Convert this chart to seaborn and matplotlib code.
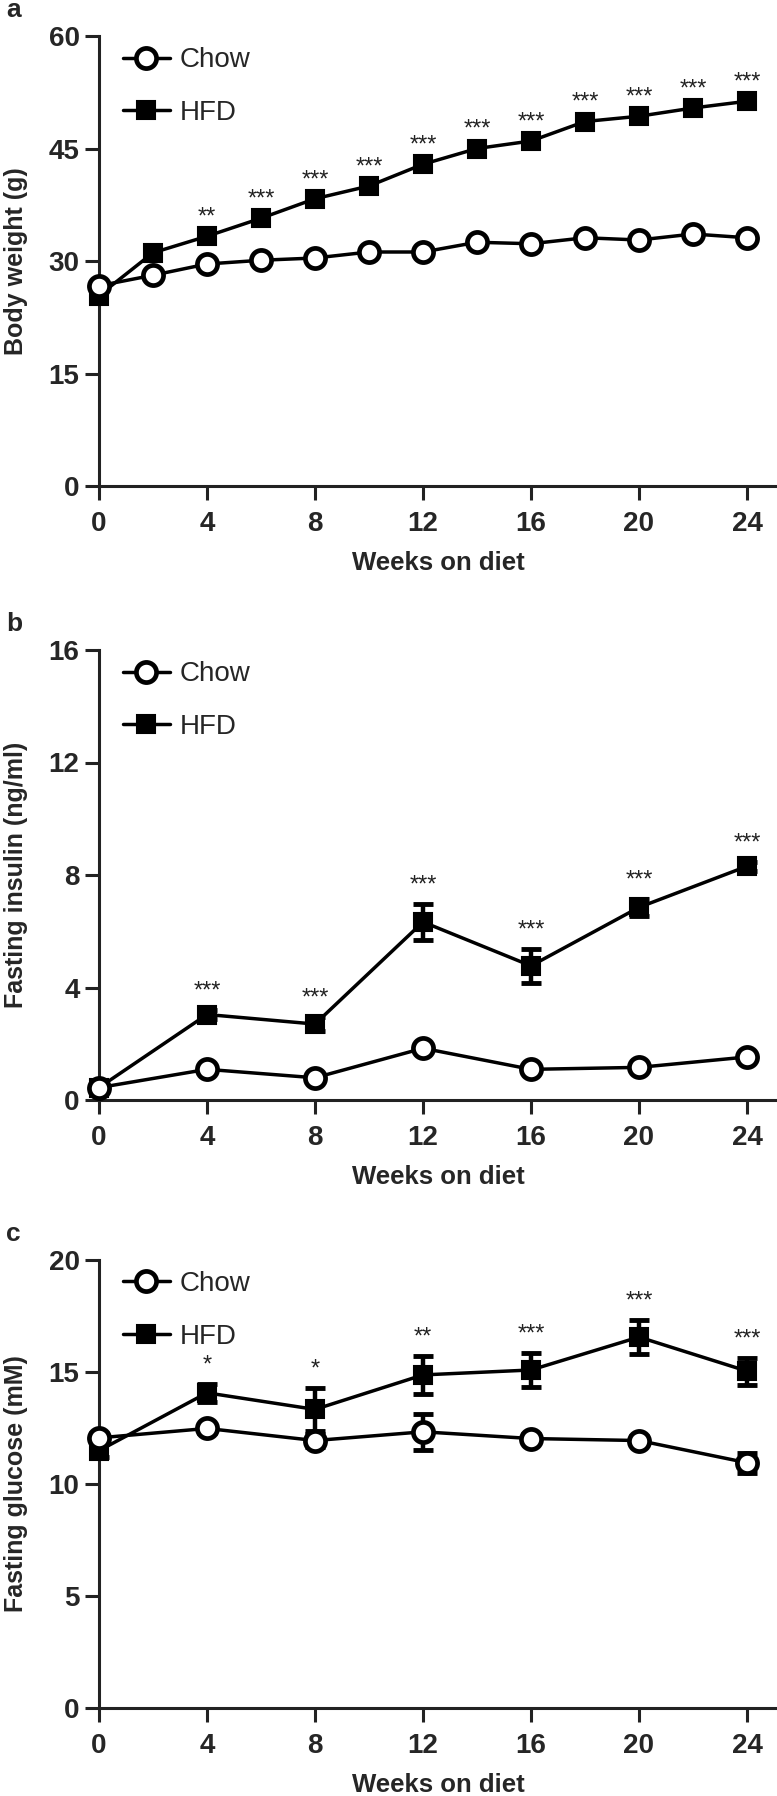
import numpy as np
import pandas as pd
import matplotlib
matplotlib.use("Agg")
import matplotlib.pyplot as plt
from matplotlib import font_manager
import seaborn as sns

# ---------------- data ----------------
weeks_a = [0, 2, 4, 6, 8, 10, 12, 14, 16, 18, 20, 22, 24]
chow_a = [26.7, 28.1, 29.6, 30.1, 30.4, 31.2, 31.2, 32.5, 32.3, 33.1, 32.8, 33.6, 33.1]
hfd_a = [25.4, 31.1, 33.3, 35.7, 38.3, 40.0, 42.9, 45.0, 46.0, 48.6, 49.3, 50.4, 51.3]
stars_a = ["", "", "**", "***", "***", "***", "***", "***", "***", "***", "***", "***", "***"]

weeks_bc = [0, 4, 8, 12, 16, 20, 24]
chow_b = [0.44, 1.09, 0.79, 1.84, 1.09, 1.16, 1.53]
chow_b_err = [0.05, 0.1, 0.1, 0.15, 0.1, 0.1, 0.1]
hfd_b = [0.44, 3.04, 2.70, 6.33, 4.77, 6.85, 8.31]
hfd_b_err = [0.05, 0.15, 0.25, 0.65, 0.6, 0.3, 0.15]
stars_b = ["", "***", "***", "***", "***", "***", "***"]

chow_c = [12.06, 12.48, 11.94, 12.33, 12.03, 11.94, 10.95]
chow_c_err = [0.2, 0.2, 0.3, 0.8, 0.2, 0.2, 0.45]
hfd_c = [11.49, 14.07, 13.33, 14.87, 15.09, 16.56, 15.04]
hfd_c_err = [0.3, 0.4, 0.95, 0.85, 0.75, 0.75, 0.6]
stars_c = ["", "*", "*", "**", "***", "***", "***"]

panel_letters = ["a", "b", "c"]
y_labels = ["Body weight (g)", "Fasting insulin (ng/ml)", "Fasting glucose (mM)"]
y_ticks = [[0, 15, 30, 45, 60], [0, 4, 8, 12, 16], [0, 5, 10, 15, 20]]
x_ticks = [0, 4, 8, 12, 16, 20, 24]
x_label = "Weeks on diet"
groups = ["Chow", "HFD"]

# ---------------- style ----------------
sns.set_style("ticks")
names = {f.name for f in font_manager.fontManager.ttflist}
base = "Liberation Sans" if "Liberation Sans" in names else "DejaVu Sans"
plt.rcParams["font.family"] = [base, "DejaVu Sans"]

W, H, DPI = 777, 1796, 100
fig = plt.figure(figsize=(W / DPI, H / DPI), dpi=DPI)

left_px = 99
axes_px = [(36, 486), (650, 1100), (1260, 1708)]
xmax = (W - left_px) / 27.0

panels = [
    (weeks_a, chow_a, None, hfd_a, None, stars_a),
    (weeks_bc, chow_b, chow_b_err, hfd_b, hfd_b_err, stars_b),
    (weeks_bc, chow_c, chow_c_err, hfd_c, hfd_c_err, stars_c),
]

LW = 2.5
for i, (wk, cv, ce, hv, he, st) in enumerate(panels):
    top, bot = axes_px[i]
    ax = fig.add_axes([left_px / W, 1 - bot / H, (W - left_px) / W, (bot - top) / H])
    df = pd.DataFrame({"week": wk * 2, "value": list(hv) + list(cv),
                       "group": ["HFD"] * len(wk) + ["Chow"] * len(wk)})
    # error bars beneath markers
    if he is not None:
        ax.errorbar(wk, hv, yerr=he, fmt="none", ecolor="black", elinewidth=3.2,
                    capsize=7, capthick=3.5, zorder=2, clip_on=False)
        ax.errorbar(wk, cv, yerr=ce, fmt="none", ecolor="black", elinewidth=3.2,
                    capsize=7, capthick=3.5, zorder=2, clip_on=False)
    sns.lineplot(data=df[df.group == "HFD"], x="week", y="value", ax=ax,
                 color="black", lw=LW, marker="s", ms=13.5, mfc="black", mec="black",
                 mew=1.5, zorder=3, clip_on=False, label="HFD", legend=False)
    sns.lineplot(data=df[df.group == "Chow"], x="week", y="value", ax=ax,
                 color="black", lw=LW, marker="o", ms=14.5, mfc="white", mec="black",
                 mew=3.4, zorder=4, clip_on=False, label="Chow", legend=False)
    hfd_line, chow_line = ax.lines[-2], ax.lines[-1]

    # significance stars
    for x, y, e, s in zip(wk, hv, he if he is not None else [0] * len(wk), st):
        if s:
            ax.annotate(s, (x, y + e), xytext=(0, 9), textcoords="offset points",
                        ha="center", va="baseline", fontsize=17, color="#222222")

    ax.set_xlim(0, xmax)
    ax.set_ylim(y_ticks[i][0], y_ticks[i][-1])
    ax.set_xticks(x_ticks)
    ax.set_yticks(y_ticks[i])
    ax.set_xticklabels([str(t) for t in x_ticks], fontsize=20, fontweight="bold")
    ax.set_yticklabels([str(t) for t in y_ticks[i]], fontsize=20, fontweight="bold")
    ax.tick_params(axis="both", length=10, width=2.2, color="#222222", direction="out")
    ax.tick_params(axis="x", pad=8)
    ax.tick_params(axis="y", pad=4)
    for side in ["top", "right"]:
        ax.spines[side].set_visible(False)
    for side in ["left", "bottom"]:
        ax.spines[side].set_linewidth(2.2)
        ax.spines[side].set_color("#222222")
    ax.set_xlabel(x_label, fontsize=18.5, fontweight="bold", labelpad=10)
    ax.set_ylabel(y_labels[i], fontsize=18, fontweight="bold")
    ax.yaxis.set_label_coords(-(left_px - 28) / (W - left_px), 0.5)

    ax.legend(handles=[chow_line, hfd_line], labels=groups, loc="upper left",
              bbox_to_anchor=(0.035, 0.975), frameon=False, fontsize=20,
              handlelength=1.7, handletextpad=0.35, labelspacing=0.95,
              borderpad=0, borderaxespad=0, numpoints=1)

    fig.text(6 / W, 1 - (axes_px[i][0] - 26) / H, panel_letters[i], fontsize=19,
             fontweight="bold", ha="left", va="center")

fig.savefig("out.png", dpi=DPI, facecolor="white")
